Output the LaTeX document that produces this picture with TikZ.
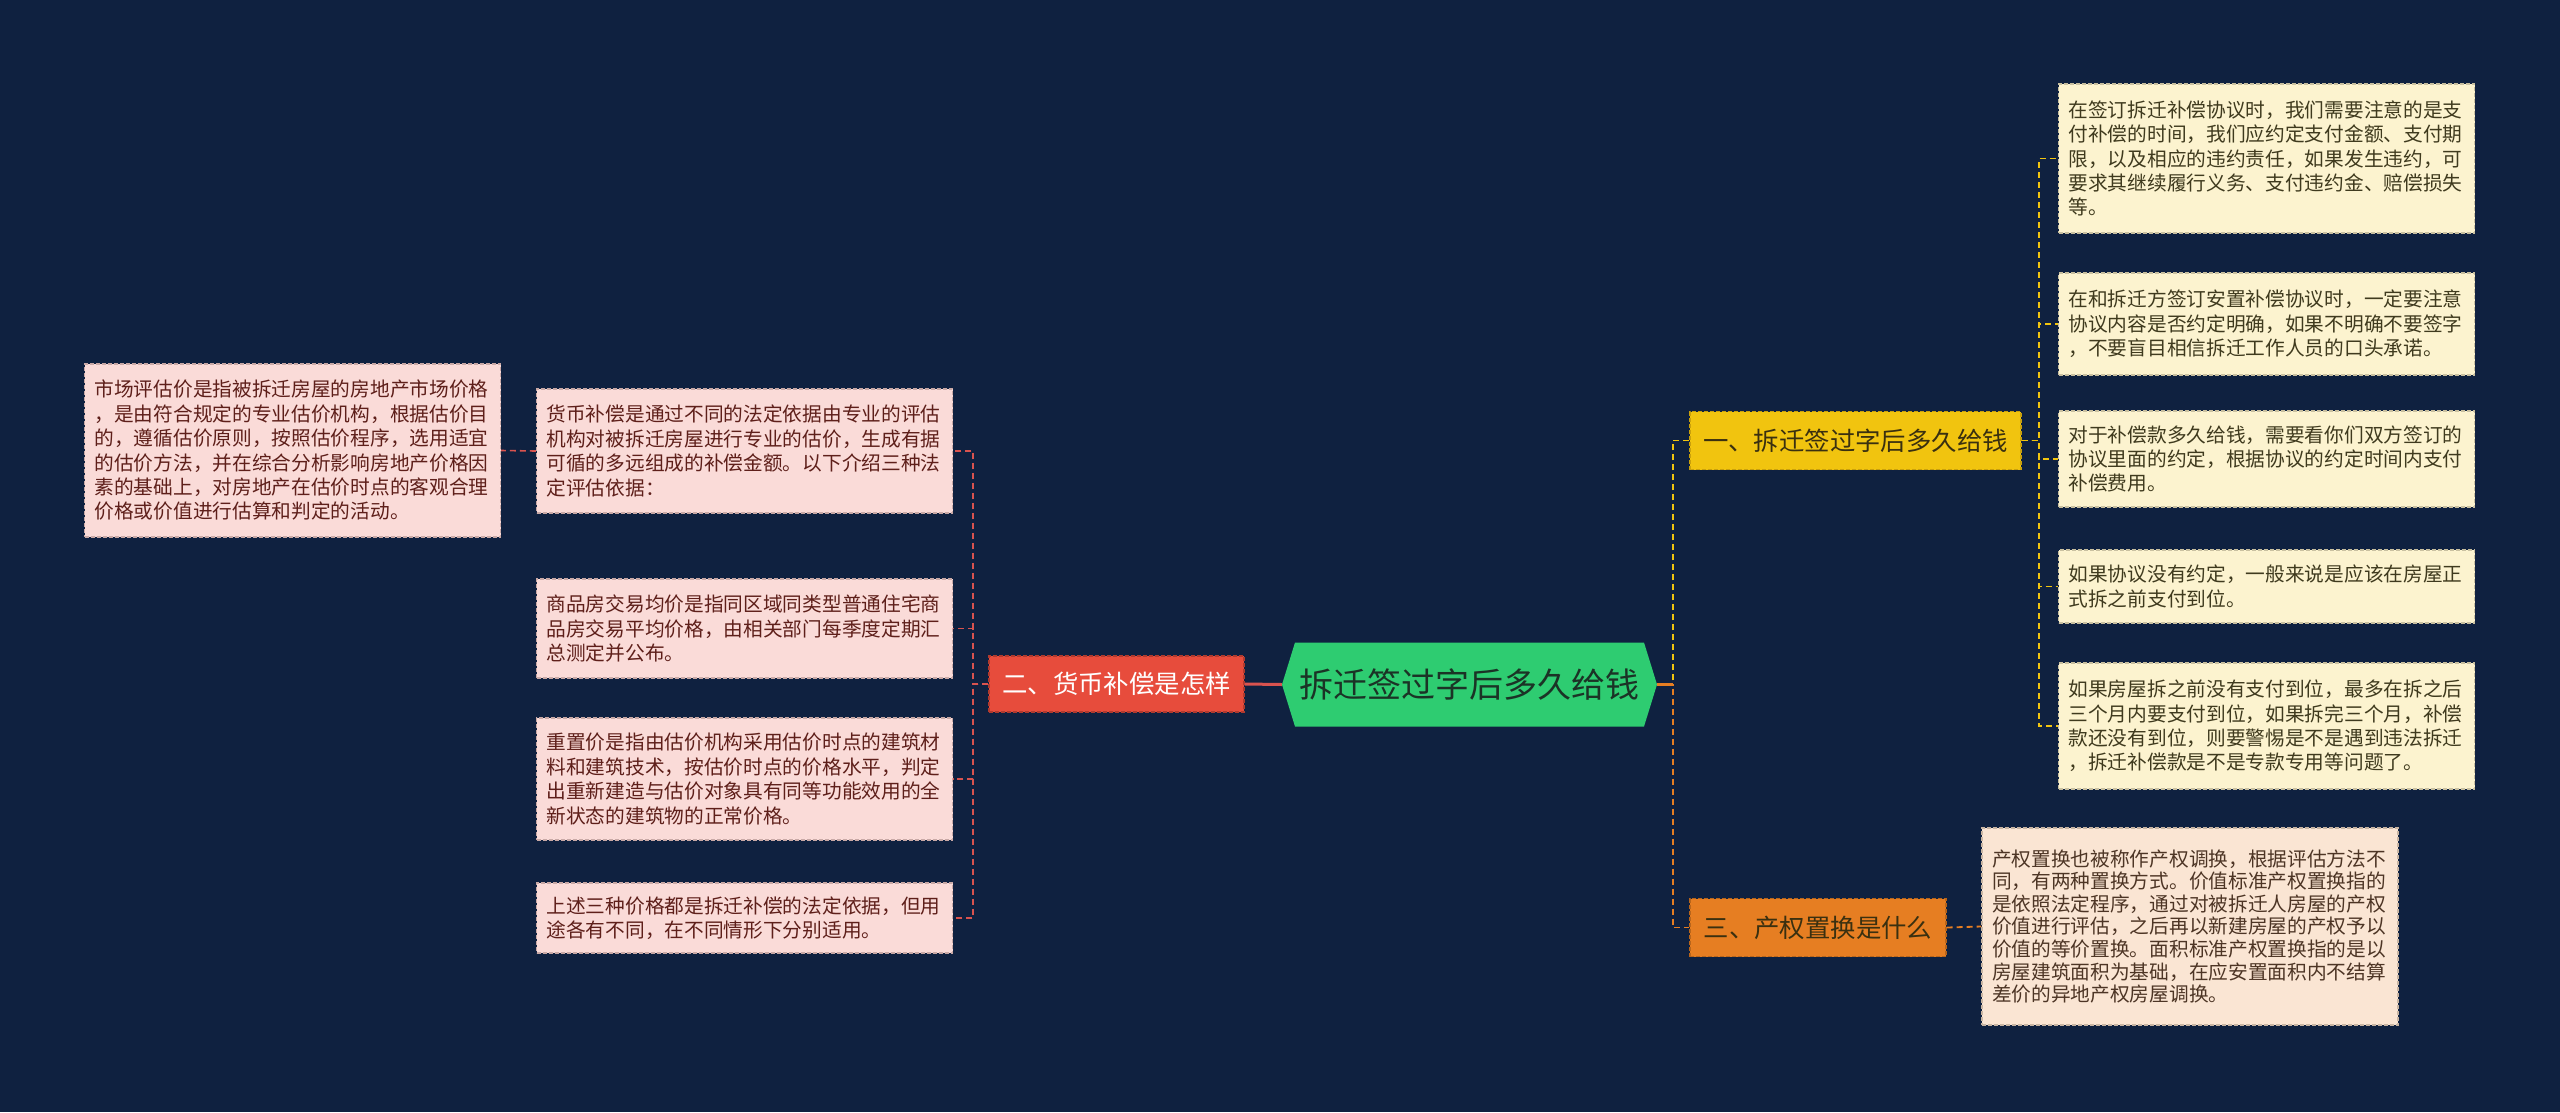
\documentclass[tikz,border=0pt]{standalone}
\usepackage{fontspec}
\newfontfamily\cjk{Noto Sans CJK SC}
\definecolor{bg}{HTML}{0F2140}
\definecolor{rootfill}{HTML}{2ECC71}
\definecolor{roottext}{HTML}{1B3326}
\definecolor{redfill}{HTML}{E74C3C}
\definecolor{redline}{HTML}{B03A2E}
\definecolor{yelfill}{HTML}{F1C40F}
\definecolor{yelline}{HTML}{C9A00C}
\definecolor{orafill}{HTML}{E67E22}
\definecolor{oraline}{HTML}{B8651B}
\definecolor{pinkfill}{HTML}{FADBD8}
\definecolor{pinkline}{HTML}{C9A9A6}
\definecolor{pinktext}{HTML}{5E1F1A}
\definecolor{creamfill}{HTML}{FCF3CF}
\definecolor{creamline}{HTML}{C9C0A0}
\definecolor{creamtext}{HTML}{3F3A1E}
\definecolor{peachfill}{HTML}{FAE5D3}
\definecolor{peachline}{HTML}{C8B5A3}
\definecolor{peachtext}{HTML}{4D3525}
\definecolor{darktext}{HTML}{3A3010}
\definecolor{rededge}{HTML}{D9534F}
\begin{document}
\begin{tikzpicture}[x=1pt,y=-1pt,
  leaf/.style={draw, line width=1.2pt, dash pattern=on 4pt off 2pt,
    font={\cjk\fontsize{19.7}{24.4}\selectfont}, text width=396pt, align=left,
    inner xsep=10pt, inner ysep=0pt, minimum width=416pt},
  lleaf/.style={leaf, fill=pinkfill, draw=pinkline, text=pinktext},
  rleaf/.style={leaf, fill=creamfill, draw=creamline, text=creamtext},
  pleaf/.style={leaf, fill=peachfill, draw=peachline, text=peachtext},
  branch/.style={draw, line width=1.2pt, dash pattern=on 4pt off 2pt,
    font={\cjk\fontsize{25.4}{30}\selectfont}, inner sep=0pt, minimum height=58pt},
  rootst/.style={fill=bg, font={\cjk\fontsize{34}{40}\selectfont}, text=roottext, inner sep=0pt,
    path picture={\fill[rootfill] (path picture bounding box.west)
      -- ([xshift=13pt]path picture bounding box.north west)
      -- ([xshift=-13pt]path picture bounding box.north east)
      -- (path picture bounding box.east)
      -- ([xshift=-13pt]path picture bounding box.south east)
      -- ([xshift=13pt]path picture bounding box.south west) -- cycle;}},
  ledge/.style={draw=rededge, line width=1.6pt, dash pattern=on 6pt off 4pt},
  yedge/.style={draw=yelfill, line width=1.8pt, dash pattern=on 6pt off 4pt},
  oedge/.style={draw=orafill, line width=1.8pt, dash pattern=on 6pt off 4pt},
]
\fill[bg] (0,0) rectangle (2560,1112);
\useasboundingbox (0,0) rectangle (2560,1112);

% root
\node[rootst, minimum width=375pt, minimum height=84pt] (root) at (1469.5,684.5) {拆迁签过字后多久给钱};

% branches
\node[branch, fill=redfill, draw=redline, text=white, minimum width=255pt, minimum height=56pt] (b2) at (1116.5,684) {二、货币补偿是怎样};
\node[branch, fill=yelfill, draw=yelline, text=darktext, minimum width=331pt] (b1) at (1855.5,440.5) {一、拆迁签过字后多久给钱};
\node[branch, fill=orafill, draw=oraline, text=darktext, minimum width=256pt] (b3) at (1818,927.5) {三、产权置换是什么};

% left leaves
\node[lleaf, minimum height=124pt] (l1) at (744.5,451) {货币补偿是通过不同的法定依据由专业的评估\\机构对被拆迁房屋进行专业的估价，生成有据\\可循的多远组成的补偿金额。以下介绍三种法\\定评估依据：};
\node[lleaf, minimum height=99pt] (l2) at (744.5,628.5) {商品房交易均价是指同区域同类型普通住宅商\\品房交易平均价格，由相关部门每季度定期汇\\总测定并公布。};
\node[lleaf, minimum height=122pt] (l3) at (744.5,779) {重置价是指由估价机构采用估价时点的建筑材\\料和建筑技术，按估价时点的价格水平，判定\\出重新建造与估价对象具有同等功能效用的全\\新状态的建筑物的正常价格。};
\node[lleaf, minimum height=70pt] (l4) at (744.5,918) {上述三种价格都是拆迁补偿的法定依据，但用\\途各有不同，在不同情形下分别适用。};
\node[lleaf, minimum height=173pt] (ll) at (292.5,450.5) {市场评估价是指被拆迁房屋的房地产市场价格\\，是由符合规定的专业估价机构，根据估价目\\的，遵循估价原则，按照估价程序，选用适宜\\的估价方法，并在综合分析影响房地产价格因\\素的基础上，对房地产在估价时点的客观合理\\价格或价值进行估算和判定的活动。};

% right leaves
\node[rleaf, minimum height=149pt] (r1) at (2266.5,158.5) {在签订拆迁补偿协议时，我们需要注意的是支\\付补偿的时间，我们应约定支付金额、支付期\\限，以及相应的违约责任，如果发生违约，可\\要求其继续履行义务、支付违约金、赔偿损失\\等。};
\node[rleaf, minimum height=102pt] (r2) at (2266.5,324) {在和拆迁方签订安置补偿协议时，一定要注意\\协议内容是否约定明确，如果不明确不要签字\\，不要盲目相信拆迁工作人员的口头承诺。};
\node[rleaf, minimum height=96pt] (r3) at (2266.5,459) {对于补偿款多久给钱，需要看你们双方签订的\\协议里面的约定，根据协议的约定时间内支付\\补偿费用。};
\node[rleaf, minimum height=73pt] (r4) at (2266.5,586.5) {如果协议没有约定，一般来说是应该在房屋正\\式拆之前支付到位。};
\node[rleaf, minimum height=126pt] (r5) at (2266.5,726) {如果房屋拆之前没有支付到位，最多在拆之后\\三个月内要支付到位，如果拆完三个月，补偿\\款还没有到位，则要警惕是不是遇到违法拆迁\\，拆迁补偿款是不是专款专用等问题了。};
\node[pleaf, minimum height=197pt, font={\cjk\fontsize{19.7}{22.6}\selectfont}] (r6) at (2190,926.5) {产权置换也被称作产权调换，根据评估方法不\\同，有两种置换方式。价值标准产权置换指的\\是依照法定程序，通过对被拆迁人房屋的产权\\价值进行评估，之后再以新建房屋的产权予以\\价值的等价置换。面积标准产权置换指的是以\\房屋建筑面积为基础，在应安置面积内不结算\\差价的异地产权房屋调换。};

% connectors
\coordinate (tl) at (973,684);
\coordinate (tr) at (1673,684.5);
\coordinate (t1) at (2039,440.5);

\draw[draw=rededge, line width=3pt] (root.west) -- (b2.east);
\foreach \n in {l1,l2,l3,l4} \draw[ledge] (b2.west) -- (tl) |- (\n.east);
\draw[ledge] (l1.west) -- (ll.east);

\draw[yedge] (root.east) -- (tr) |- (b1.west);
\draw[oedge] (root.east) -- (tr) |- (b3.west);
\draw[draw=orafill, line width=3pt] (root.east) -- (tr);
\foreach \n in {r1,r2,r3,r4,r5} \draw[yedge] (b1.east) -- (t1) |- (\n.west);
\draw[oedge] (b3.east) -- (r6.west);
\end{tikzpicture}
\end{document}
